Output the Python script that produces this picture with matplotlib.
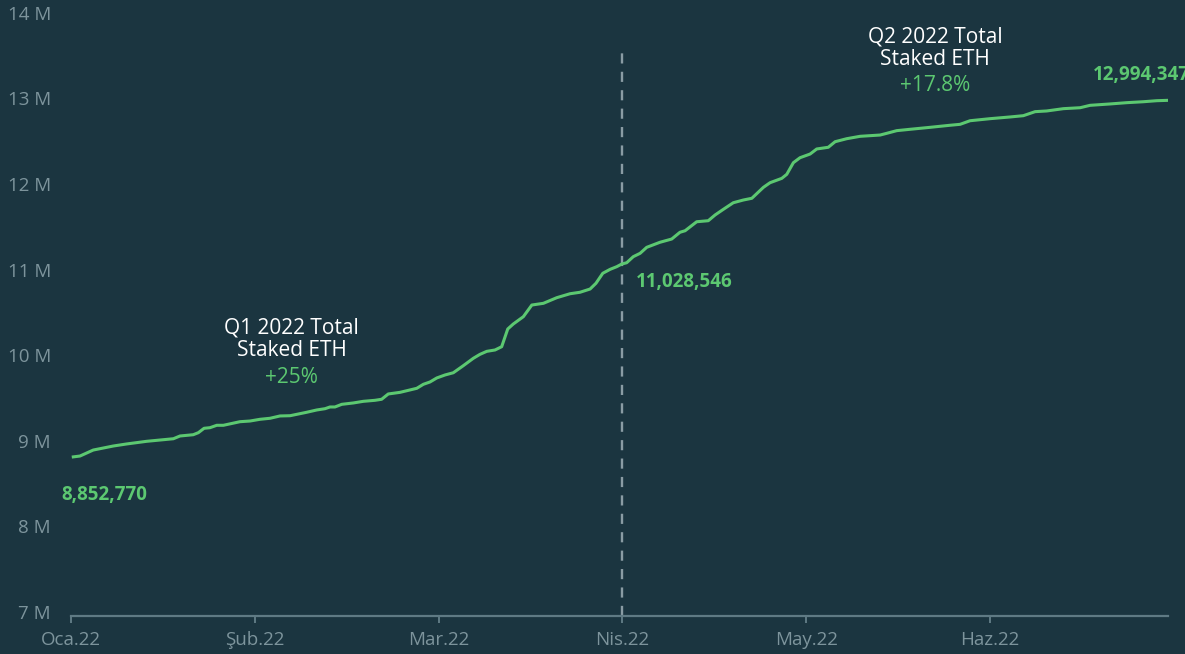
import matplotlib
matplotlib.use("Agg")
import matplotlib.pyplot as plt
import matplotlib.transforms as mtransforms

plt.rcParams['font.family'] = ['Open Sans', 'DejaVu Sans']

# ---- data (x in months since 1 Jan 2022, values in millions of ETH) ----
months = [0.0125, 0.049, 0.121, 0.230, 0.303, 0.412, 0.557, 0.593, 0.665, 0.693,
          0.724, 0.756, 0.793, 0.829, 0.919, 0.974, 1.028, 1.083, 1.137, 1.192,
          1.282, 1.337, 1.382, 1.409, 1.436, 1.473, 1.536, 1.590, 1.654, 1.690,
          1.726, 1.790, 1.881, 1.917, 1.953, 1.990, 2.035, 2.080, 2.134, 2.189,
          2.225, 2.262, 2.307, 2.343, 2.376, 2.406, 2.461, 2.507, 2.570, 2.643,
          2.715, 2.769, 2.824, 2.856, 2.893, 2.933, 2.969, 2.996, 3.023, 3.059,
          3.096, 3.132, 3.204, 3.268, 3.313, 3.341, 3.404, 3.467, 3.504, 3.549,
          3.603, 3.658, 3.704, 3.767, 3.803, 3.867, 3.894, 3.930, 3.966, 4.021,
          4.057, 4.120, 4.157, 4.220, 4.293, 4.402, 4.438, 4.492, 4.565, 4.674,
          4.782, 4.837, 4.891, 5.000, 5.109, 5.181, 5.245, 5.308, 5.399, 5.490,
          5.544, 5.653, 5.744, 5.834, 5.907, 5.964]
staked = [8.853, 8.863, 8.933, 8.980, 9.004, 9.035, 9.065, 9.097, 9.112, 9.136,
          9.187, 9.194, 9.222, 9.222, 9.264, 9.272, 9.292, 9.304, 9.331, 9.334,
          9.374, 9.401, 9.416, 9.436, 9.436, 9.467, 9.483, 9.502, 9.514, 9.526,
          9.588, 9.607, 9.654, 9.701, 9.728, 9.775, 9.810, 9.836, 9.918, 10.005,
          10.051, 10.086, 10.102, 10.140, 10.347, 10.405, 10.491, 10.627, 10.647, 10.713,
          10.759, 10.776, 10.814, 10.881, 10.998, 11.044, 11.075, 11.106, 11.121, 11.192,
          11.231, 11.301, 11.360, 11.398, 11.477, 11.495, 11.600, 11.612, 11.679, 11.745,
          11.822, 11.854, 11.874, 12.002, 12.056, 12.107, 12.154, 12.290, 12.348, 12.391,
          12.450, 12.470, 12.535, 12.570, 12.598, 12.613, 12.633, 12.664, 12.680, 12.703,
          12.727, 12.738, 12.780, 12.804, 12.824, 12.839, 12.886, 12.894, 12.921, 12.932,
          12.960, 12.976, 12.991, 13.002, 13.014, 13.018]

month_labels = ["Oca.22", "Şub.22", "Mar.22", "Nis.22", "May.22", "Haz.22"]
y_ticks = [7, 8, 9, 10, 11, 12, 13, 14]
y_tick_labels = ["7 M", "8 M", "9 M", "10 M", "11 M", "12 M", "13 M", "14 M"]

start_label = "8,852,770"
mid_label = "11,028,546"
end_label = "12,994,347"
q1_title = "Q1 2022 Total\nStaked ETH"
q1_change = "+25%"
q2_title = "Q2 2022 Total\nStaked ETH"
q2_change = "+17.8%"

# ---- style ----
BG = "#1b3540"
GREEN = "#5cc871"
TICK = "#7d949c"
AXIS = "#5f7a84"
DASH = "#8a9ca4"
WHITE = "#ffffff"

W, H = 1185, 654
fig = plt.figure(figsize=(W / 100, H / 100), dpi=100, facecolor=BG)
ax = fig.add_axes([71 / W, 1 - 615.5 / H, (1168 - 71) / W, (615.5 - 16.3) / H])
ax.set_facecolor(BG)

ax.plot(months, staked, color=GREEN, lw=2.2, solid_joinstyle='round', zorder=3)

ax.set_xlim(0, 5.968)
ax.set_ylim(7, 14)

# vertical dashed separator at Nis.22
ax.plot([3, 3], [7, 13.6], color=DASH, lw=1.7, dashes=(4.3, 3.5), zorder=2)

for s in ['top', 'right', 'left']:
    ax.spines[s].set_visible(False)
ax.spines['bottom'].set_color(AXIS)
ax.spines['bottom'].set_linewidth(1.6)

ax.set_xticks(range(len(month_labels)))
ax.set_xticklabels(month_labels)
ax.tick_params(axis='x', color=AXIS, length=5, width=1.4, pad=6, labelsize=13.5, labelcolor=TICK)

ax.set_yticks(y_ticks)
ax.set_yticklabels(y_tick_labels)
ax.tick_params(axis='y', length=0, pad=14.4, labelsize=13.5, labelcolor=TICK)
off = mtransforms.ScaledTranslation(0, 3.5 / 100, fig.dpi_scale_trans)
for lab in ax.get_yticklabels():
    lab.set_transform(lab.get_transform() + off)

# annotations
ax.text(1.20, 10.23, q1_title, color=WHITE, fontsize=15, ha='center', va='center',
        linespacing=1.12)
ax.text(1.20, 9.786, q1_change, color=GREEN, fontsize=15, ha='center', va='center')
ax.text(4.70, 13.624, q2_title, color=WHITE, fontsize=15, ha='center', va='center',
        linespacing=1.12)
ax.text(4.70, 13.197, q2_change, color=GREEN, fontsize=15, ha='center', va='center')

ax.text(-0.054, 8.408, start_label, color=GREEN, fontsize=13.5, fontweight='bold',
        ha='left', va='center', clip_on=False)
ax.text(3.074, 10.90, mid_label, color=GREEN, fontsize=13.5, fontweight='bold',
        ha='left', va='center')
ax.text(5.56, 13.314, end_label, color=GREEN, fontsize=13.5, fontweight='bold',
        ha='left', va='center', clip_on=False)

fig.savefig("out.png", dpi=100, facecolor=BG)
